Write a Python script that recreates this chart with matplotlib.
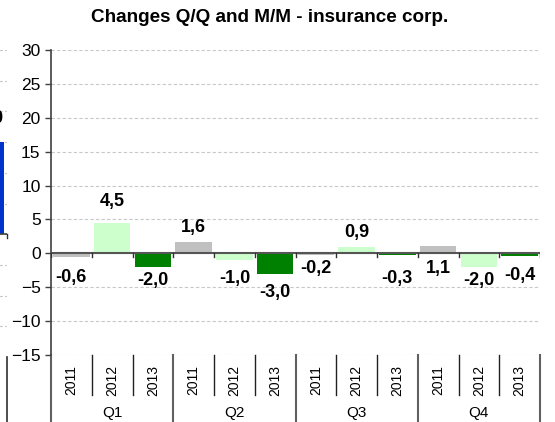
import numpy as np
import matplotlib
matplotlib.use("Agg")
import matplotlib.pyplot as plt
import matplotlib.transforms as mtransforms

plt.rcParams["font.family"] = ["Liberation Sans", "DejaVu Sans"]

# ── Data ───────────────────────────────────────────────────────────────────────
QUARTERS = ["Q1", "Q2", "Q3", "Q4"]
YEARS = ["2011", "2012", "2013"]
VALUES = [-0.6, 4.5, -2.0, 1.6, -1.0, -3.0, -0.2, 0.9, -0.3, 1.1, -2.0, -0.4]
# where the data labels sit (value units), Excel put them by hand
LABEL_Y = [-3.5, 7.7, -4.0, 3.8, -3.7, -5.8, -2.2, 3.0, -3.7, -2.2, -4.0, -3.2]

# neighbouring chart, only its right edge shows at the left border
PREV_VALUES = [0.0, 15.0]

YEAR_COLORS = {"2011": "#C0C0C0", "2012": "#CCFFCC", "2013": "#008000"}
GRID_KW = dict(linestyle=(0, (3, 2)), color="#C8C8C8", linewidth=0.8)

W, H = 555, 422
fig = plt.figure(figsize=(W / 100, H / 100), dpi=100)


def px_axes(x0, y0, x1, y1):
    return fig.add_axes([x0 / W, 1 - y1 / H, (x1 - x0) / W, (y1 - y0) / H])


def fmt(v):
    return f"{v:.1f}".replace(".", ",")


# ── Cut-off neighbour chart ────────────────────────────────────────────────────
axp = px_axes(-75.5, 50, 6.5, 357)
axp.bar(range(len(PREV_VALUES)), PREV_VALUES, width=0.9, color="#0033CC", zorder=2)
axp.set_xlim(-0.5, 1.5)
axp.set_ylim(-20, 30)
axp.set_yticks(range(-20, 31, 5))
axp.yaxis.grid(True, **GRID_KW)
axp.set_axisbelow(True)
axp.set_xticks([])
axp.tick_params(left=False, labelleft=False)
for s in axp.spines.values():
    s.set_visible(False)
axp.axhline(0, color="#404040", lw=1.2, zorder=3)
axp.plot([1.5, 1.5], [0, -0.6], color="#303030", lw=1, zorder=3, clip_on=False)
axp.text(1, PREV_VALUES[1] + 3.8, fmt(PREV_VALUES[1]), ha="center", va="center",
         fontsize=13, fontweight="bold", clip_on=False)
tp = mtransforms.blended_transform_factory(axp.transData, axp.transAxes)
axp.plot([1.5, 1.5], [0, -0.25], transform=tp, color="#303030", lw=1.2, clip_on=False)

# ── Main chart ─────────────────────────────────────────────────────────────────
ax = px_axes(51, 50, 540, 355)
x = np.arange(len(VALUES))
colors = [YEAR_COLORS[y] for q in QUARTERS for y in YEARS]
ax.bar(x, VALUES, width=0.9, color=colors, edgecolor="none", zorder=2)

ax.set_xlim(-0.5, len(VALUES) - 0.5)
ax.set_ylim(-15, 30)
ax.set_yticks(range(-15, 31, 5))
ax.yaxis.grid(True, **GRID_KW)
ax.set_axisbelow(True)
ax.set_xticks([])
ax.tick_params(axis="y", direction="out", length=4, width=1, color="#404040",
               labelsize=12.5, pad=3.5)
for side in ["top", "right", "bottom"]:
    ax.spines[side].set_visible(False)
ax.spines["left"].set_color("#404040")
ax.spines["left"].set_linewidth(1.2)

# category axis crossing at zero
ax.axhline(0, color="#555555", lw=1.5, zorder=3)
bounds = np.arange(-0.5, len(VALUES), 1.0)
for b in bounds:
    ax.plot([b, b], [0, -0.6], color="#303030", lw=1, zorder=3)

# multi-level category labels below the plot
tr = mtransforms.blended_transform_factory(ax.transData, ax.transAxes)
for i, b in enumerate(bounds):
    if i % len(YEARS) == 0:
        ax.plot([b, b], [0, -0.23], transform=tr, color="#606060", lw=1.5, clip_on=False)
    else:
        ax.plot([b, b], [0, -0.131], transform=tr, color="#202020", lw=1, clip_on=False)
for i in x:
    ax.text(i, -0.082, YEARS[i % len(YEARS)], transform=tr, rotation=90,
            ha="center", va="center", fontsize=10)
for k, q in enumerate(QUARTERS):
    ax.text(k * len(YEARS) + 1, -0.19, q, transform=tr, ha="center", va="center",
            fontsize=11)

# data labels
for i, (v, ly) in enumerate(zip(VALUES, LABEL_Y)):
    ax.text(i, ly, fmt(v), ha="center", va="center", fontsize=13,
            fontweight="bold", zorder=4)

fig.text(270 / W, 1 - 18 / H, "Changes Q/Q and M/M - insurance corp.",
         ha="center", va="center", fontsize=13.6, fontweight="bold")

fig.savefig("out.png", dpi=100)
